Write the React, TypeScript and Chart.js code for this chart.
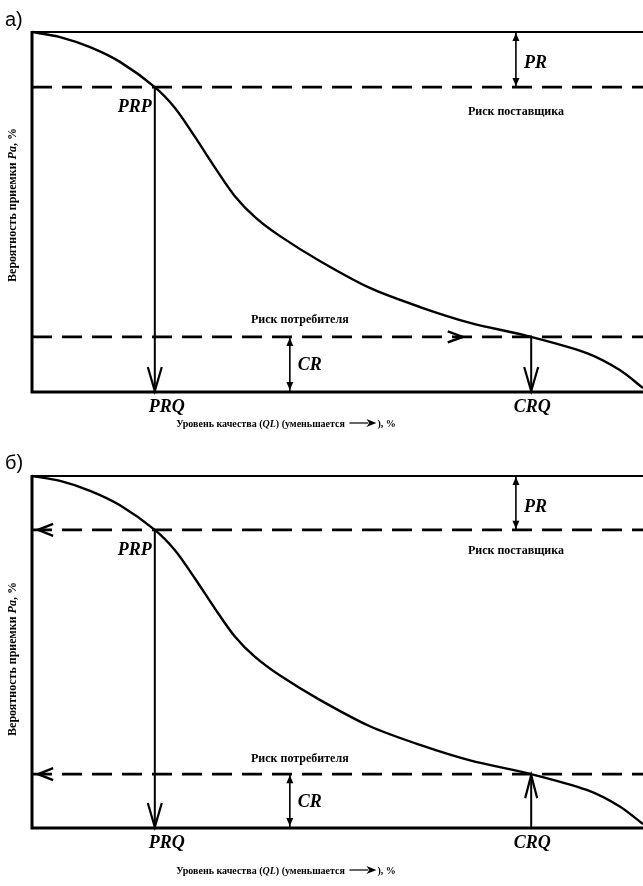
import React, { useEffect, useRef } from "react";
import { Chart, registerables } from "chart.js";
Chart.register(...registerables);

// ---- data ----
const qualityLevels = [0, 4.6, 9.5, 14.4, 20.1, 23.4, 26.7, 30.0, 33.2, 36.5, 40.6, 47.1, 55.3, 63.5, 71.7, 81.7, 90.8, 96.2, 100];
const acceptanceProb = [100, 98.6, 95.8, 91.7, 84.7, 78.9, 70.8, 62.2, 54.4, 48.6, 43.3, 36.4, 28.9, 23.6, 19.2, 15.3, 10.8, 6.1, 1.1];
const PRQ = 20.1;
const PRP = 84.7;
const CRQ = 81.7;
const CRP = 15.3;
const prArrowX = 79.2;
const crArrowX = 42.2;
const consumerChevronX = 70.5;
const leftChevronX = 1.0;

const panelLabels = ["а)", "б)"];
const yTitleParts = [
  ["Вероятность приемки ", false],
  ["Pa", true],
  [", %", false],
];
const xTitleBefore = [
  ["Уровень качества (", false],
  ["QL", true],
  [") (уменьшается ", false],
];
const xTitleAfter = "), %";
const labelPRP = "PRP";
const labelPR = "PR";
const labelCR = "CR";
const labelPRQ = "PRQ";
const labelCRQ = "CRQ";
const supplierRisk = "Риск поставщика";
const consumerRisk = "Риск потребителя";

const SERIF = '"Liberation Serif", "Times New Roman", serif';
const SANS = '"Liberation Sans Narrow", "Liberation Sans", Arial, sans-serif';

type Panel = {
  variant: "a" | "b";
  label: string;
  height: number;
  padding: { left: number; top: number; right: number; bottom: number };
  yTitleCenter: number;
  xTitleBaseline: number;
  supplierDy: number;
  consumerDy: number;
};

const panels: Panel[] = [
  {
    variant: "a",
    label: panelLabels[0],
    height: 443,
    padding: { left: 32, top: 32, right: 0, bottom: 51 },
    yTitleCenter: 205,
    xTitleBaseline: 427,
    supplierDy: 28,
    consumerDy: -14,
  },
  {
    variant: "b",
    label: panelLabels[1],
    height: 443,
    padding: { left: 32, top: 33, right: 0, bottom: 58 },
    yTitleCenter: 216,
    xTitleBaseline: 431,
    supplierDy: 24,
    consumerDy: -12,
  },
];

function openV(ctx: CanvasRenderingContext2D, x: number, yTip: number, dir: 1 | -1, len: number, hw: number) {
  ctx.beginPath();
  ctx.moveTo(x - hw, yTip - dir * len);
  ctx.lineTo(x, yTip);
  ctx.lineTo(x + hw, yTip - dir * len);
  ctx.stroke();
}

function filledHead(ctx: CanvasRenderingContext2D, x: number, yTip: number, dir: 1 | -1) {
  const len = 8, hw = 3.5;
  ctx.beginPath();
  ctx.moveTo(x, yTip);
  ctx.lineTo(x - hw, yTip - dir * len);
  ctx.lineTo(x + hw, yTip - dir * len);
  ctx.closePath();
  ctx.fill();
}

function chevronH(ctx: CanvasRenderingContext2D, xTip: number, y: number, dir: 1 | -1, len: number, hw: number) {
  ctx.beginPath();
  ctx.moveTo(xTip - dir * len, y - hw);
  ctx.lineTo(xTip, y);
  ctx.lineTo(xTip - dir * len, y + hw);
  ctx.stroke();
}

function partsWidth(ctx: CanvasRenderingContext2D, parts: any[], size: number) {
  let w = 0;
  for (const [t, it] of parts) {
    ctx.font = `${it ? "italic " : ""}bold ${size}px ${SERIF}`;
    w += ctx.measureText(t).width;
  }
  return w;
}

function drawParts(ctx: CanvasRenderingContext2D, parts: any[], x: number, y: number, size: number) {
  let cx = x;
  for (const [t, it] of parts) {
    ctx.font = `${it ? "italic " : ""}bold ${size}px ${SERIF}`;
    ctx.fillText(t, cx, y);
    cx += ctx.measureText(t).width;
  }
  return cx;
}

function makePlugin(p: Panel) {
  return {
    id: "ocDecor" + p.variant,
    beforeDatasetsDraw(chart: any) {
      const { ctx, chartArea: a } = chart;
      ctx.save();
      ctx.strokeStyle = "#000";
      ctx.lineWidth = 2;
      ctx.beginPath();
      ctx.moveTo(a.left, a.top);
      ctx.lineTo(a.right, a.top);
      ctx.stroke();
      ctx.lineWidth = 3;
      ctx.beginPath();
      ctx.moveTo(a.left, a.top - 1);
      ctx.lineTo(a.left, a.bottom);
      ctx.lineTo(a.right, a.bottom);
      ctx.stroke();
      ctx.restore();
    },
    afterDatasetsDraw(chart: any) {
      const { ctx } = chart;
      const xs = chart.scales.x;
      const ys = chart.scales.y;
      const X = (v: number) => xs.getPixelForValue(v);
      const Y = (v: number) => ys.getPixelForValue(v);
      ctx.save();
      ctx.strokeStyle = "#000";
      ctx.fillStyle = "#000";
      ctx.lineCap = "butt";
      ctx.lineJoin = "miter";

      ctx.lineWidth = 2.2;
      openV(ctx, X(PRQ), Y(0) - 1, 1, 24, 7);
      if (p.variant === "a") openV(ctx, X(CRQ), Y(0) - 1, 1, 24, 7);
      else openV(ctx, X(CRQ), Y(CRP) + 1, -1, 23, 6);

      filledHead(ctx, X(prArrowX), Y(100) + 1, -1);
      filledHead(ctx, X(prArrowX), Y(PRP) - 1, 1);
      filledHead(ctx, X(crArrowX), Y(CRP) + 1, -1);
      filledHead(ctx, X(crArrowX), Y(0) - 2, 1);

      ctx.lineWidth = 2.5;
      if (p.variant === "a") {
        chevronH(ctx, X(consumerChevronX), Y(CRP), 1, 15, 5.5);
      } else {
        chevronH(ctx, X(leftChevronX), Y(PRP), -1, 15, 6);
        chevronH(ctx, X(leftChevronX), Y(CRP), -1, 15, 6);
      }

      ctx.textBaseline = "alphabetic";
      ctx.font = `italic bold 18px ${SERIF}`;
      ctx.textAlign = "right";
      ctx.fillText(labelPRP, X(PRQ) - 3, Y(PRP) + 25);
      ctx.textAlign = "left";
      ctx.fillText(labelPR, X(prArrowX) + 8, Y(100) + 36);
      ctx.fillText(labelCR, X(crArrowX) + 8, Y(CRP) + 33);
      ctx.textAlign = "center";
      ctx.fillText(labelPRQ, X(PRQ) + 12, Y(0) + 20);
      ctx.fillText(labelCRQ, X(CRQ) + 1, Y(0) + 20);

      ctx.font = `bold 12px ${SERIF}`;
      ctx.fillText(supplierRisk, X(prArrowX), Y(PRP) + p.supplierDy);
      ctx.fillText(consumerRisk, X(crArrowX) + 10, Y(CRP) + p.consumerDy);

      ctx.textAlign = "left";
      ctx.font = `20px ${SANS}`;
      ctx.fillText(p.label, 5, 26);

      ctx.save();
      ctx.translate(13, p.yTitleCenter);
      ctx.rotate(-Math.PI / 2);
      ctx.textBaseline = "middle";
      const yw = partsWidth(ctx, yTitleParts, 12);
      drawParts(ctx, yTitleParts, -yw / 2, 0, 12);
      ctx.restore();

      ctx.textBaseline = "alphabetic";
      const arrowW = 30;
      const fs = 10;
      const before = partsWidth(ctx, xTitleBefore, fs);
      ctx.font = `bold ${fs}px ${SERIF}`;
      const after = ctx.measureText(xTitleAfter).width;
      const total = before + arrowW + after;
      let cx = 286 - total / 2;
      cx = drawParts(ctx, xTitleBefore, cx, p.xTitleBaseline, fs);
      const ay = p.xTitleBaseline - 4;
      ctx.lineWidth = 1.2;
      ctx.beginPath();
      ctx.moveTo(cx + 2, ay);
      ctx.lineTo(cx + arrowW - 9, ay);
      ctx.stroke();
      ctx.beginPath();
      ctx.moveTo(cx + arrowW - 1, ay);
      ctx.lineTo(cx + arrowW - 11, ay - 4);
      ctx.lineTo(cx + arrowW - 8, ay);
      ctx.lineTo(cx + arrowW - 11, ay + 4);
      ctx.closePath();
      ctx.fill();
      ctx.font = `bold ${fs}px ${SERIF}`;
      ctx.fillText(xTitleAfter, cx + arrowW, p.xTitleBaseline);

      ctx.restore();
    },
  };
}

function seg(data: { x: number; y: number }[], extra: any = {}) {
  return {
    data,
    showLine: true,
    pointRadius: 0,
    pointHoverRadius: 0,
    borderColor: "#000",
    backgroundColor: "#000",
    fill: false,
    clip: false,
    borderWidth: 2,
    ...extra,
  };
}

function OCChart({ panel }: { panel: Panel }) {
  const ref = useRef<HTMLCanvasElement | null>(null);
  useEffect(() => {
    if (!ref.current) return;
    const curve = qualityLevels.map((x, i) => ({ x, y: acceptanceProb[i] }));
    const dash = [20, 10];
    const chart = new Chart(ref.current, {
      type: "scatter",
      data: {
        datasets: [
          seg([{ x: 0, y: PRP }, { x: 100, y: PRP }], { borderDash: dash, borderWidth: 2.6 }),
          seg([{ x: 0, y: CRP }, { x: 100, y: CRP }], { borderDash: dash, borderWidth: 2.6 }),
          seg([{ x: PRQ, y: PRP }, { x: PRQ, y: 0 }], { borderWidth: 2 }),
          seg(panel.variant === "a" ? [{ x: CRQ, y: CRP }, { x: CRQ, y: 0 }] : [{ x: CRQ, y: 0 }, { x: CRQ, y: CRP }], { borderWidth: 2 }),
          seg([{ x: prArrowX, y: 100 }, { x: prArrowX, y: PRP }], { borderWidth: 1.6 }),
          seg([{ x: crArrowX, y: CRP }, { x: crArrowX, y: 0 }], { borderWidth: 1.6 }),
          seg(curve, { borderWidth: 2.4, tension: 0.3 }),
        ],
      },
      options: {
        responsive: false,
        animation: false,
        devicePixelRatio: 1,
        layout: { padding: panel.padding },
        plugins: { legend: { display: false }, tooltip: { enabled: false } },
        events: [],
        scales: {
          x: { type: "linear", min: 0, max: 100, display: false },
          y: { type: "linear", min: 0, max: 100, display: false },
        },
      },
      plugins: [makePlugin(panel)],
    } as any);
    return () => chart.destroy();
  }, [panel]);
  return <canvas ref={ref} width={643} height={panel.height} style={{ display: "block" }} />;
}

export default function App() {
  return (
    <div style={{ position: "absolute", left: 0, top: 0, width: 643, height: 886, background: "#fff" }}>
      {panels.map((p) => (
        <OCChart key={p.variant} panel={p} />
      ))}
    </div>
  );
}
